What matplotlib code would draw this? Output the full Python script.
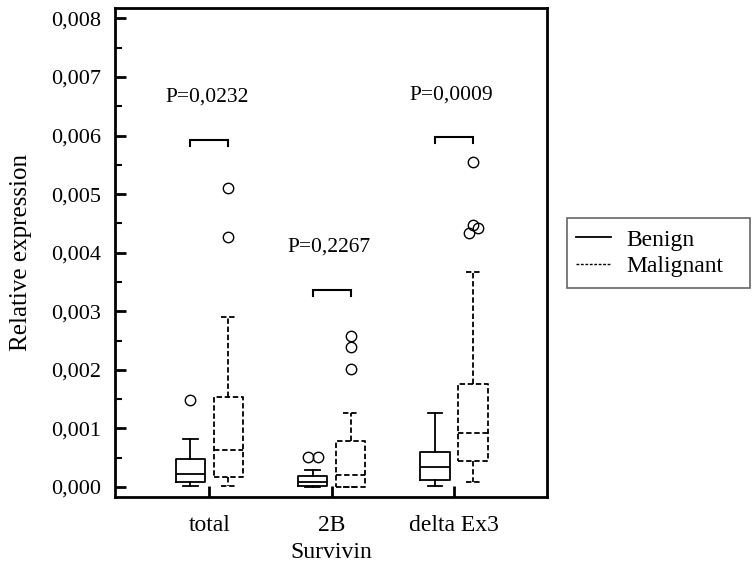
import matplotlib
matplotlib.use('Agg')
import matplotlib.pyplot as plt
from matplotlib.lines import Line2D
from matplotlib.patches import Rectangle
from matplotlib.ticker import MultipleLocator, FuncFormatter

plt.rcParams['font.family'] = ['Liberation Serif', 'DejaVu Serif']

# data
categories = ['total', '2B', 'delta Ex3']
groups = ['Benign', 'Malignant']

benign_whislo = [0.00002, 0.0, 0.00001]
benign_q1 = [0.00009, 0.00001, 0.00012]
benign_med = [0.00022, 0.00009, 0.00035]
benign_q3 = [0.00048, 0.00019, 0.00060]
benign_whishi = [0.00082, 0.00029, 0.00127]
benign_fliers = [[0.00148], [0.00052, 0.00052], []]

malig_whislo = [0.00001, 0.0, 0.00009]
malig_q1 = [0.00017, 0.0, 0.00045]
malig_med = [0.00064, 0.00020, 0.00092]
malig_q3 = [0.00153, 0.00079, 0.00176]
malig_whishi = [0.00290, 0.00127, 0.00367]
malig_fliers = [[0.00427, 0.00510], [0.00201, 0.00239, 0.00258],
                [0.00433, 0.00443, 0.00447, 0.00555]]

p_values = ['P=0,0232', 'P=0,2267', 'P=0,0009']
bracket_y = [0.00593, 0.00336, 0.00597]

# small sideways shifts so touching outliers stay visible
benign_flier_dx = [[0], [-0.04, 0.04], []]
malig_flier_dx = [[0, 0], [0, 0, 0], [-0.03, 0.04, 0, 0]]

W, H = 756, 565
fig = plt.figure(figsize=(W / 100, H / 100), dpi=100)
ax = fig.add_axes([0.152, 0.1204, 0.5715, 0.8656])

offset = 0.155
width = 0.24
dash = (0, (3, 1.5))


def make_stats(lo, q1, med, q3, hi):
    return [dict(whislo=a, q1=b, med=c, q3=d, whishi=e, fliers=[])
            for a, b, c, d, e in zip(lo, q1, med, q3, hi)]


pos = [i + 1 for i in range(len(categories))]
styles = [
    ('-', make_stats(benign_whislo, benign_q1, benign_med, benign_q3, benign_whishi),
     benign_fliers, benign_flier_dx, -offset),
    (dash, make_stats(malig_whislo, malig_q1, malig_med, malig_q3, malig_whishi),
     malig_fliers, malig_flier_dx, offset),
]

for ls, stats, fliers, dxs, off in styles:
    lp = dict(color='black', linewidth=1.3, linestyle=ls)
    ax.bxp(stats, positions=[p + off for p in pos], widths=width,
           showfliers=False, boxprops=lp, whiskerprops=lp, capprops=lp,
           medianprops=lp, manage_ticks=False)
    for p, fl, dx in zip(pos, fliers, dxs):
        for v, d in zip(fl, dx):
            ax.plot(p + off + d, v, 'o', mfc='none', mec='black', ms=7.5, mew=1.0)

# significance brackets
for p, txt, by in zip(pos, p_values, bracket_y):
    x0, x1 = p - offset, p + offset
    ax.plot([x0, x0, x1, x1], [by - 0.0001, by, by, by - 0.0001],
            color='black', linewidth=1.5, solid_joinstyle='miter')
    ax.text(p - 0.02, by + 0.00073, txt, ha='center', va='center', fontsize=15.5)

ax.set_xlim(0.229, 3.76)
ax.set_ylim(-0.00017, 0.00818)
ax.set_xticks(pos)
ax.set_xticklabels(categories, fontsize=17)
ax.yaxis.set_major_locator(MultipleLocator(0.001))
ax.yaxis.set_minor_locator(MultipleLocator(0.0005))
ax.yaxis.set_major_formatter(FuncFormatter(lambda v, _: f'{v:.3f}'.replace('.', ',')))
ax.tick_params(axis='y', which='major', direction='in', length=8, width=2, labelsize=16, pad=10)
ax.tick_params(axis='y', which='minor', direction='in', length=5, width=1.5)
ax.tick_params(axis='x', direction='in', length=8, width=2, labelsize=17, pad=13)
for s in ax.spines.values():
    s.set_linewidth(2)

ax.set_xlabel('Survivin', fontsize=17, labelpad=4)
ax.set_ylabel('Relative expression', fontsize=18, labelpad=14)

# legend with a hand-sized frame
handles = [Line2D([], [], color='black', lw=1.3, ls='-'),
           Line2D([], [], color='black', lw=1.0, ls=(0, (2, 1.2)))]
fig.legend(handles, groups, loc='upper left', bbox_to_anchor=(0.752, 0.607),
           fontsize=17, frameon=False, handlelength=1.5, handletextpad=0.65,
           borderpad=0.3, labelspacing=0.2, borderaxespad=0)
fig.patches.append(Rectangle((567 / W, 1 - 288 / H), 183 / W, 70 / H,
                             transform=fig.transFigure, fill=False,
                             edgecolor='#666666', linewidth=1.2))

fig.savefig('out.png', dpi=100)
